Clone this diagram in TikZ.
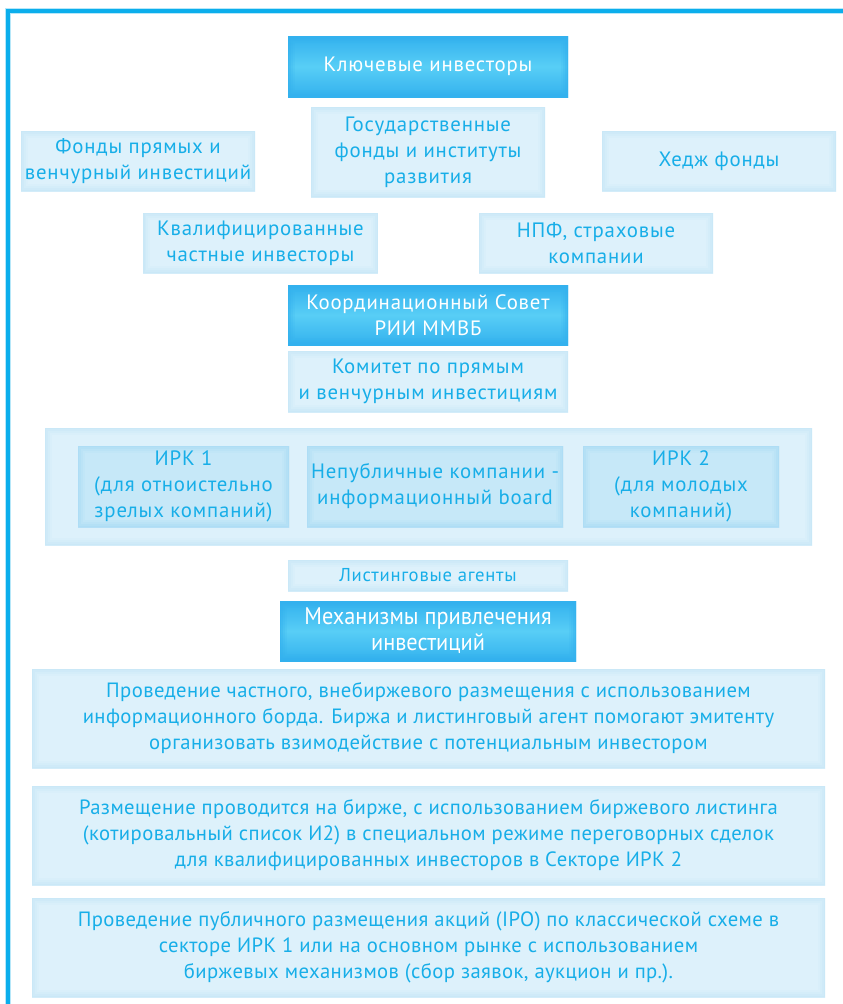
\documentclass[tikz,border=0pt]{standalone}
\usepackage{fontspec}
\setmainfont{PT Sans}[LetterSpace=4]
\newfontfamily\plainfont{PT Sans}[LetterSpace=2]
\newfontfamily\narrowfont{PT Sans}[FakeStretch=0.93]
\usepackage{tikz}
\usetikzlibrary{positioning}

\definecolor{frameblue}{HTML}{0BAEEC}
\definecolor{textblue}{HTML}{17AEE8}
\definecolor{paleblue}{HTML}{DDF1FB}
\definecolor{paleedge}{HTML}{C4E6F7}
\definecolor{midblue}{HTML}{C6E8F8}
\definecolor{deepblue}{HTML}{33B1EE}
\definecolor{brightblue}{HTML}{58CEF6}

\begin{document}
\begin{tikzpicture}[
        x=0.75pt, y=-0.75pt,
        glow/.style={path picture={
            \foreach \w/\o in {10/0.15,7/0.2,4/0.3,2/0.45}
                \draw[#1, line width=\w pt, opacity=\o] (path picture bounding box.south west) rectangle (path picture bounding box.north east);
        }},
        lightbox/.style={rectangle, fill=paleblue, glow=paleedge, text=textblue, align=center,
            font=\fontsize{15.6}{19.5}\selectfont, inner sep=0pt},
        innerbox/.style={lightbox, fill=midblue, glow=paleedge!80!deepblue},
        darkbox/.style={rectangle, top color=deepblue, bottom color=deepblue, middle color=brightblue,
            glow=deepblue, text=white, align=center, font=\fontsize{15.6}{19.5}\selectfont, inner sep=0pt},
        widebox/.style={lightbox, minimum width=594.75pt, minimum height=74.25pt,
            font=\plainfont\fontsize{15.5}{19.5}\selectfont}
    ]
    \useasboundingbox (0,0) rectangle (843,1004);

    % outer frame, open at the bottom and on the right
    \coordinate (frame_end) at (843,11);
    \coordinate (frame_corner) at (8,11);
    \coordinate (frame_foot) at (8,1004);
    \draw[frameblue!30, line width=4.5pt] (frame_end) -- (frame_corner) -- (frame_foot);
    \draw[frameblue, line width=2.4pt] (frame_end) -- (frame_corner) -- (frame_foot);

    % investors
    \node[darkbox, minimum width=210pt, minimum height=45.75pt] (key) at (428,66.5) {Ключевые инвесторы};
    \node[lightbox, minimum width=175.5pt, minimum height=45pt] (pe_funds) at (138,161) {Фонды прямых и\\венчурный инвестиций};
    \node[lightbox, minimum width=175.5pt, minimum height=67.5pt] (state_funds) at (428,152) {Государственные\\фонды и институты\\развития};
    \node[lightbox, minimum width=175.5pt, minimum height=45pt] (hedge) at (719,161) {Хедж фонды};
    \node[lightbox, minimum width=176pt, minimum height=45pt] (qualified) at (260.5,243) {Квалифицированные\\частные инвесторы};
    \node[lightbox, minimum width=175.5pt, minimum height=45pt] (pension) at (596,243) {НПФ, страховые\\компании};

    % council and committee
    \node[darkbox, minimum width=210pt, minimum height=45pt] (council) at (428,315) {Координационный Совет\\РИИ ММВБ};
    \node[lightbox, minimum width=210pt, minimum height=45.75pt] (committee) at (428,381.5) {Комитет по прямым\\и венчурным инвестициям};

    % market sectors
    \node[lightbox, minimum width=575.25pt, minimum height=87.75pt] (sectors) at (428.5,486.5) {};
    \node[innerbox, minimum width=158.25pt, minimum height=60.75pt] (irk_one) at (183.5,486.5) {ИРК 1\\(для отноистельно\\зрелых компаний)};
    \node[innerbox, minimum width=192pt, minimum height=60.75pt] (info_board) at (435,486.5) {Непубличные компании -\\информационный board};
    \node[innerbox, minimum width=147pt, minimum height=60.75pt] (irk_two) at (681,486.5) {ИРК 2\\(для молодых\\компаний)};

    \node[lightbox, minimum width=210pt, minimum height=23.25pt, font=\fontsize{14}{16}\selectfont] (agents) at (428,575.5) {Листинговые агенты};

    % mechanisms
    \node[darkbox, minimum width=222pt, minimum height=45pt, font=\narrowfont\fontsize{18}{19.5}\selectfont] (mechanisms) at (428,631) {Механизмы привлечения\\инвестиций};
    \node[widebox] (private) at (428.5,718.5) {Проведение частного, внебиржевого размещения с использованием\\информационного борда. Биржа и листинговый агент помогают эмитенту\\организовать взимодействие с потенциальным инвестором};
    \node[widebox] (exchange) at (428.5,835.5) {Размещение проводится на бирже, с использованием биржевого листинга\\(котировальный список И2) в специальном режиме переговорных сделок\\для квалифицированных инвесторов в Секторе ИРК 2};
    \node[widebox] (public) at (428.5,947.5) {Проведение публичного размещения акций (IPO) по классической схеме в\\секторе ИРК 1 или на основном рынке с использованием\\биржевых механизмов (сбор заявок, аукцион и пр.).};
\end{tikzpicture}
\end{document}
